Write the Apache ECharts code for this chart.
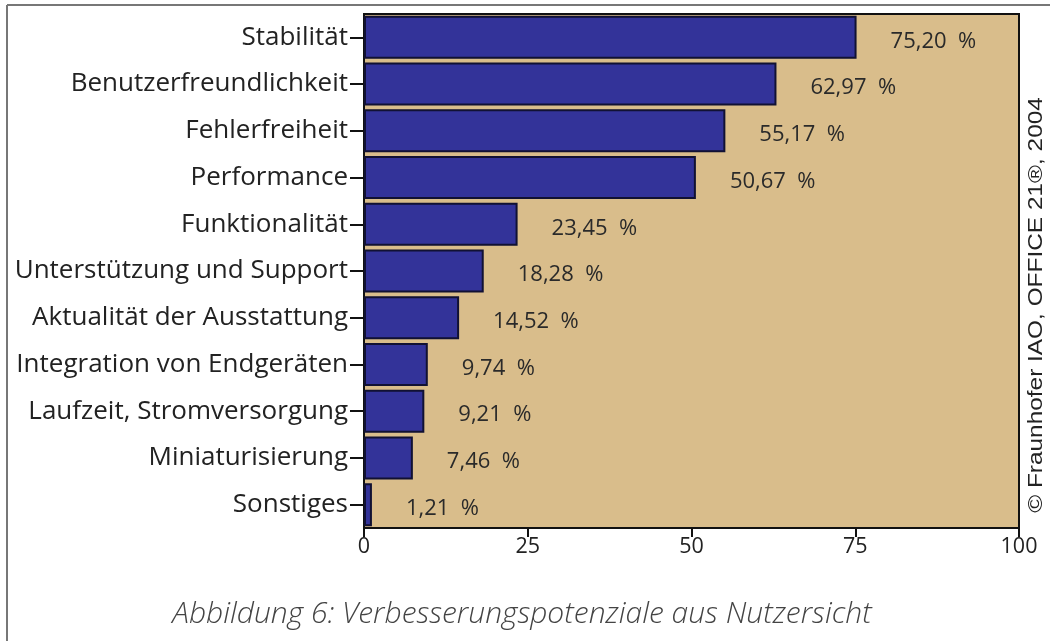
<!DOCTYPE html>
<html><head><meta charset="utf-8">
<script src="https://cdn.jsdelivr.net/npm/echarts@6/dist/echarts.min.js"></script>
<style>html,body{margin:0;padding:0;background:#fff}#c{width:1050px;height:641px}</style>
</head><body><div id="c"></div>
<script>
const categories = ["Stabilität","Benutzerfreundlichkeit","Fehlerfreiheit","Performance","Funktionalität","Unterstützung und Support","Aktualität der Ausstattung","Integration von Endgeräten","Laufzeit, Stromversorgung","Miniaturisierung","Sonstiges"];
const values = [75.20, 62.97, 55.17, 50.67, 23.45, 18.28, 14.52, 9.74, 9.21, 7.46, 1.21];
const xTicks = [0, 25, 50, 75, 100];
const captionText = "Abbildung 6: Verbesserungspotenziale aus Nutzersicht";
const copyrightText = "© Fraunhofer IAO, OFFICE 21®, 2004";

const chart = echarts.init(document.getElementById('c'), null, {renderer:'canvas'});
chart.setOption({
  animation:false,
  backgroundColor:'#fff',
  grid:{left:364,right:31,top:14,bottom:113,show:true,backgroundColor:'#D9BD8B',borderColor:'#111',borderWidth:2},
  xAxis:{type:'value',min:xTicks[0],max:xTicks[xTicks.length-1],interval:25,
    axisLine:{show:true,lineStyle:{color:'#111',width:2}},
    axisTick:{show:true,length:9,lineStyle:{color:'#111',width:2}},
    axisLabel:{fontFamily:'Open Sans',fontSize:21.5,color:'#222',margin:8},
    splitLine:{show:false}},
  yAxis:{type:'category',data:categories,inverse:true,
    axisLine:{show:true,lineStyle:{color:'#111',width:2}},
    axisTick:{show:true,length:14,alignWithLabel:true,lineStyle:{color:'#111',width:2}},
    axisLabel:{fontFamily:'Open Sans',fontSize:26,color:'#222',margin:16}},
  series:[{type:'bar',data:values,barCategoryGap:'8%',
    itemStyle:{color:'#333399',borderColor:'#111133',borderWidth:2},
    label:{show:true,position:'right',distance:34,offset:[0,4],fontFamily:'Open Sans',fontSize:22,color:'#2a2a2a',
      formatter:p=>p.value.toFixed(2).replace('.',',')+'  %'}}],
  graphic:[
    {type:'line',shape:{x1:7,y1:5,x2:1050,y2:5},style:{stroke:'#777',lineWidth:2}},
    {type:'line',shape:{x1:7,y1:5,x2:7,y2:641},style:{stroke:'#777',lineWidth:2}},
    {type:'text',x:522,y:614,style:{text:captionText,font:'italic 300 30px "Open Sans"',fill:'#444',align:'center',verticalAlign:'middle'}},
    {type:'text',x:1036,y:305,rotation:Math.PI/2,scaleX:1.22,style:{text:copyrightText,font:'20px "Liberation Sans"',fill:'#222',align:'center',verticalAlign:'middle'}}
  ]
});
</script></body></html>
